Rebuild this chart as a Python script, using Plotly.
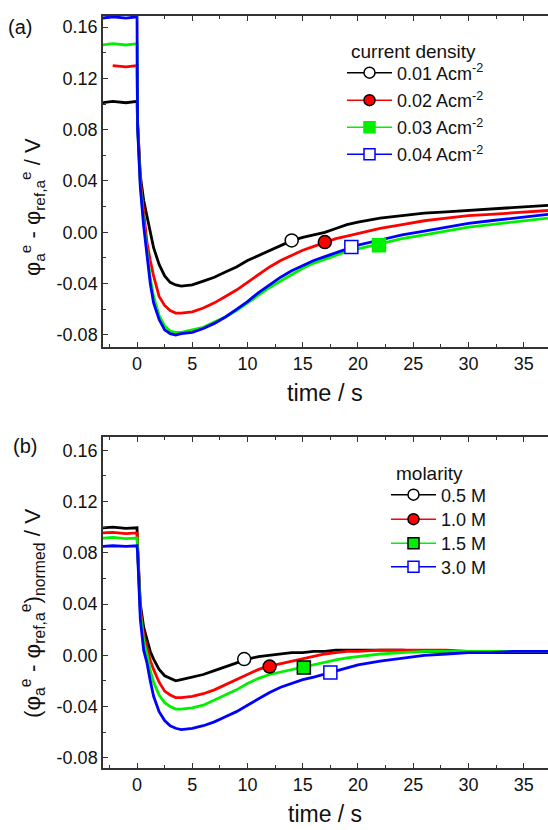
import plotly.graph_objects as go

# ---------------- data ----------------
time_s = [-3.1, -2.2, -1.0, 0.0, 0.05, 0.3, 0.6, 0.9, 1.2, 1.5, 2.0, 2.5, 3.0, 3.5, 4.0,
          5, 6, 7, 8, 9, 10, 11, 12, 13, 14, 15, 16, 17, 18, 19, 20,
          22, 24, 26, 28, 30, 32, 34, 36, 37.2]

# panel (a): current density
a_title = "current density"
a_labels = ["0.01 Acm<sup>-2</sup>", "0.02 Acm<sup>-2</sup>", "0.03 Acm<sup>-2</sup>", "0.04 Acm<sup>-2</sup>"]
a_001 = [0.101, 0.102, 0.101, 0.102, 0.086, 0.044, 0.025, 0.012, 0.000, -0.012, -0.025, -0.034, -0.039, -0.041, -0.042,
         -0.041, -0.038, -0.035, -0.031, -0.027, -0.022, -0.018, -0.014, -0.010, -0.0065, -0.004, -0.002, 0.000, 0.003, 0.006, 0.008,
         0.011, 0.013, 0.015, 0.016, 0.017, 0.018, 0.019, 0.020, 0.021]
a_002 = [None, 0.130, 0.129, 0.130, 0.085, 0.040, 0.015, -0.008, -0.022, -0.034, -0.050, -0.057, -0.061, -0.063, -0.063,
         -0.062, -0.059, -0.055, -0.050, -0.045, -0.039, -0.033, -0.027, -0.022, -0.018, -0.014, -0.011, -0.008, -0.005, -0.003, -0.001,
         0.003, 0.006, 0.009, 0.011, 0.013, 0.014, 0.015, 0.016, 0.017]
a_003 = [0.146, 0.147, 0.146, 0.147, 0.083, 0.037, 0.008, -0.016, -0.036, -0.050, -0.065, -0.073, -0.077, -0.078, -0.078,
         -0.076, -0.074, -0.070, -0.066, -0.061, -0.055, -0.049, -0.043, -0.038, -0.033, -0.028, -0.024, -0.021, -0.018, -0.015, -0.013,
         -0.009, -0.005, -0.002, 0.001, 0.004, 0.006, 0.008, 0.010, 0.011]
a_004 = [0.167, 0.168, 0.167, 0.168, 0.082, 0.035, 0.005, -0.020, -0.040, -0.055, -0.068, -0.076, -0.079, -0.080, -0.079,
         -0.078, -0.075, -0.071, -0.066, -0.060, -0.054, -0.047, -0.041, -0.035, -0.030, -0.026, -0.022, -0.019, -0.016, -0.013, -0.010,
         -0.006, -0.002, 0.001, 0.004, 0.007, 0.009, 0.011, 0.013, 0.014]
a_marker_t = [14.0, 17.0, 21.9, 19.4]
a_marker_v = [-0.0063, -0.0076, -0.0100, -0.0115]

# panel (b): molarity
b_title = "molarity"
b_labels = ["0.5 M", "1.0 M", "1.5 M", "3.0 M"]
b_05 = [0.0995, 0.100, 0.099, 0.0995, 0.085, 0.040, 0.022, 0.012, 0.003, -0.003, -0.011, -0.016, -0.018, -0.020, -0.019,
        -0.017, -0.015, -0.012, -0.009, -0.006, -0.003, -0.001, 0.000, 0.001, 0.002, 0.002, 0.003, 0.003, 0.004, 0.004, 0.004,
        0.004, 0.004, 0.003, 0.003, 0.003, 0.002, 0.002, 0.002, 0.002]
b_10 = [0.0955, 0.096, 0.095, 0.0955, 0.084, 0.036, 0.016, 0.006, -0.004, -0.011, -0.021, -0.028, -0.031, -0.033, -0.033,
        -0.032, -0.030, -0.027, -0.023, -0.019, -0.015, -0.011, -0.0085, -0.0065, -0.0045, -0.0025, -0.001, 0.001, 0.002, 0.003, 0.003,
        0.004, 0.004, 0.004, 0.004, 0.003, 0.003, 0.003, 0.003, 0.003]
b_15 = [0.0915, 0.092, 0.091, 0.0915, 0.083, 0.033, 0.011, 0.001, -0.012, -0.021, -0.031, -0.037, -0.040, -0.042, -0.042,
        -0.041, -0.039, -0.035, -0.031, -0.027, -0.022, -0.018, -0.015, -0.013, -0.011, -0.0095, -0.0075, -0.0055, -0.0035, -0.002, -0.001,
        0.001, 0.002, 0.003, 0.003, 0.003, 0.003, 0.003, 0.003, 0.003]
b_30 = [0.085, 0.0855, 0.085, 0.0855, 0.080, 0.028, 0.004, -0.006, -0.020, -0.032, -0.044, -0.051, -0.055, -0.057, -0.058,
        -0.057, -0.055, -0.052, -0.048, -0.044, -0.039, -0.034, -0.029, -0.025, -0.022, -0.019, -0.017, -0.0145, -0.012, -0.0095, -0.0075,
        -0.0045, -0.002, 0.000, 0.001, 0.002, 0.002, 0.003, 0.003, 0.003]
b_marker_t = [9.7, 12.0, 15.1, 17.5]
b_marker_v = [-0.0030, -0.0088, -0.0096, -0.0135]

y_tickvals = [-0.08, -0.04, 0.00, 0.04, 0.08, 0.12, 0.16]
y_ticktext = ["-0.08", "-0.04", "0.00", "0.04", "0.08", "0.12", "0.16"]
x_tickvals = [0, 5, 10, 15, 20, 25, 30, 35]

# ---------------- styling ----------------
colors = ["#000000", "#ff0000", "#00f000", "#0000ff"]
FONT = "Liberation Sans, Arial, sans-serif"
W, H = 548, 830
markers_a = [
    dict(symbol="circle", color="white", line=dict(color="black", width=1.5)),
    dict(symbol="circle", color="#ff0000", line=dict(color="black", width=1.5)),
    dict(symbol="square", color="#00f000", line=dict(color="#00f000", width=1.5)),
    dict(symbol="square", color="white", line=dict(color="#0000ff", width=1.5)),
]
markers_b = [
    dict(symbol="circle", color="white", line=dict(color="black", width=1.5)),
    dict(symbol="circle", color="#ff0000", line=dict(color="black", width=1.5)),
    dict(symbol="square", color="#00f000", line=dict(color="black", width=1.5)),
    dict(symbol="square", color="white", line=dict(color="#0000ff", width=1.5)),
]

# per-item legend placement (pixel rows of each legend entry)
a_leg_x, a_leg_rows = 342, [73, 100.5, 127.5, 154.5]
b_leg_x, b_leg_rows = 386, [495, 519.5, 543.5, 567]

fig = go.Figure()
legends = {}

def add_panel(series, labels, mk_t, mk_v, mstyles, xa, ya, leg_ids, leg_x, leg_rows):
    for s, c in zip(series, colors):
        fig.add_trace(go.Scatter(x=time_s, y=s, mode="lines", line=dict(color=c, width=2.8),
                                 xaxis=xa, yaxis=ya, showlegend=False, hoverinfo="skip"))
    for i, c in enumerate(colors):
        fig.add_trace(go.Scatter(x=[mk_t[i]], y=[mk_v[i]], mode="markers",
                                 marker=dict(size=13, **mstyles[i]),
                                 xaxis=xa, yaxis=ya, showlegend=False, hoverinfo="skip"))
    for i, c in enumerate(colors):
        lid = leg_ids[i]
        fig.add_trace(go.Scatter(x=[None], y=[None], mode="lines+markers", name=labels[i],
                                 line=dict(color=c, width=1.5),
                                 marker=dict(size=11, **mstyles[i]),
                                 xaxis=xa, yaxis=ya, legend=lid, showlegend=True))
        legends[lid] = dict(x=leg_x / W, y=1 - leg_rows[i] / H, xanchor="left", yanchor="middle",
                            itemwidth=45, bgcolor="rgba(0,0,0,0)", borderwidth=0,
                            font=dict(family=FONT, size=18, color="#111"))

add_panel([a_001, a_002, a_003, a_004], a_labels, a_marker_t, a_marker_v, markers_a, "x", "y",
          ["legend", "legend2", "legend3", "legend4"], a_leg_x, a_leg_rows)
add_panel([b_05, b_10, b_15, b_30], b_labels, b_marker_t, b_marker_v, markers_b, "x2", "y2",
          ["legend5", "legend6", "legend7", "legend8"], b_leg_x, b_leg_rows)

axis_common = dict(showline=True, linecolor="#333", linewidth=1.5, ticks="inside", ticklen=5,
                   tickwidth=1.2, tickcolor="#333", showgrid=False, zeroline=False,
                   tickfont=dict(family=FONT, size=18, color="#111"))

def xax(anchor):
    return dict(axis_common, domain=[103 / W, 1.0], range=[-3.08, 37.2], anchor=anchor,
                tickvals=x_tickvals, mirror="allticks",
                minor=dict(dtick=2.5, tick0=0, ticks="inside", ticklen=3, tickcolor="#333", showgrid=False))

def yax(anchor, dom, rng):
    return dict(axis_common, domain=dom, range=rng, anchor=anchor,
                tickvals=y_tickvals, ticktext=y_ticktext, mirror=False,
                minor=dict(dtick=0.02, tick0=0, ticks="inside", ticklen=3, tickcolor="#333", showgrid=False))

fig.update_layout(
    width=W, height=H,
    margin=dict(l=0, r=0, t=0, b=0),
    paper_bgcolor="white", plot_bgcolor="white",
    font=dict(family=FONT, color="#111"),
    xaxis=xax("y"),
    yaxis=yax("x", [1 - 347 / H, 1 - 16 / H], [-0.0894, 0.1686]),
    xaxis2=xax("y2"),
    yaxis2=yax("x2", [1 - 768 / H, 1 - 437 / H], [-0.088, 0.1704]),
    showlegend=True,
    **legends,
)

ann = [
    dict(text="(a)", x=20 / W, y=1 - 27 / H),
    dict(text="(b)", x=25 / W, y=1 - 446 / H),
    dict(text=a_title, x=349 / W, y=1 - 51 / H, xanchor="left", font=dict(family=FONT, size=19, color="#111")),
    dict(text=b_title, x=394 / W, y=1 - 473 / H, xanchor="left", font=dict(family=FONT, size=19, color="#111")),
    dict(text="time / s", x=325 / W, y=1 - 393 / H, font=dict(family=FONT, size=23.5, color="#111")),
    dict(text="time / s", x=325 / W, y=1 - 814 / H, font=dict(family=FONT, size=23, color="#111")),
    dict(text="φ<sub>a</sub><sup>e</sup> - φ<sub>ref,a</sub><sup>e</sup> / V", x=32 / W, y=1 - 207 / H,
         textangle=-90, font=dict(family=FONT, size=22, color="#111")),
    dict(text="(φ<sub>a</sub><sup>e</sup> - φ<sub>ref,a</sub><sup>e</sup>)<sub>normed</sub> / V", x=32 / W, y=1 - 614 / H,
         textangle=-90, font=dict(family=FONT, size=22.5, color="#111")),
]
for a in ann:
    a.setdefault("font", dict(family=FONT, size=20, color="#111"))
    a.setdefault("xanchor", "center")
    fig.add_annotation(xref="paper", yref="paper", showarrow=False, yanchor="middle", **a)

fig.write_html("out.html", config=dict(displayModeBar=False),
               post_script="document.body.style.margin='0px';document.body.style.padding='0px';"
                           "document.body.style.overflow='hidden';")
